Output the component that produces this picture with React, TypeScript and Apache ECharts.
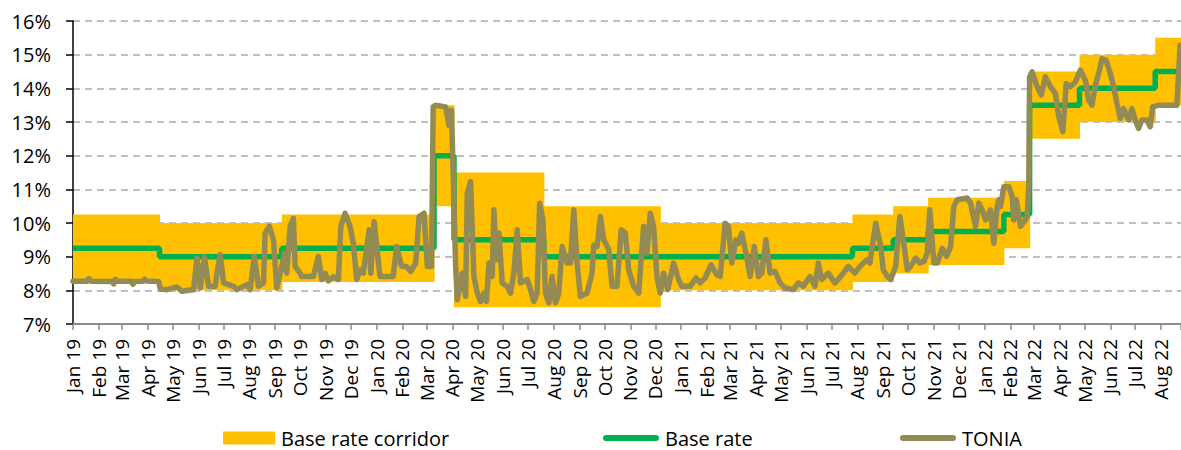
import React, { useEffect, useRef } from "react";
import * as echarts from "echarts";

const MONTHS = ["Jan", "Feb", "Mar", "Apr", "May", "Jun", "Jul", "Aug", "Sep", "Oct", "Nov", "Dec"];
const AXIS_START = "2019-01-01";
const AXIS_END = "2022-08-25";
const Y_MIN = 7;
const Y_MAX = 16;

// Policy periods (start dates), corridor bounds and base rate (%)
const PERIOD_START = [
  "2019-01-01", "2019-04-15", "2019-09-09", "2020-03-10", "2020-04-03", "2020-07-20", "2020-12-07",
  "2021-07-26", "2021-09-13", "2021-10-25", "2022-01-24", "2022-02-24", "2022-04-25", "2022-07-25",
];
const CORRIDOR_LOW = [8.25, 8.0, 8.25, 10.5, 7.5, 7.5, 8.0, 8.25, 8.5, 8.75, 9.25, 12.5, 13.0, 13.5];
const CORRIDOR_HIGH = [10.25, 10.0, 10.25, 13.5, 11.5, 10.5, 10.0, 10.25, 10.5, 10.75, 11.25, 14.5, 15.0, 15.5];
const BASE_RATE = [9.25, 9.0, 9.25, 12.0, 9.5, 9.0, 9.0, 9.25, 9.5, 9.75, 10.25, 13.5, 14.0, 14.5];

// TONIA: days since 2019-01-01 and value (%)
const TONIA_DAY = [
  0, 17, 19, 22, 47, 49, 51, 53, 70, 72, 74, 84, 86, 88, 103, 105, 113, 125, 131, 139, 145, 149, 153, 158, 163, 171, 173, 177, 181,
  193, 197, 209, 213, 218, 223, 229, 231, 236, 241, 245, 251, 254, 257, 261, 265, 267, 273, 275, 289, 295, 299,
  303, 307, 313, 319, 322, 327, 333, 337, 341, 345, 349, 356, 358, 362, 366, 369,
  385, 389, 395, 401, 406, 412, 416, 422, 426, 431, 433, 436, 448, 452, 455, 460, 462, 468, 472, 474, 478, 482,
  486, 490, 494, 497, 500, 504, 506, 509, 512, 516, 522, 526, 530, 534, 538, 546, 550, 554, 558, 561, 565, 568,
  572, 576, 580, 584, 588, 594, 598, 602, 606, 610, 618, 624, 626, 630, 634, 638, 644, 648, 654, 659, 664, 668,
  674, 680, 686, 690, 694, 698, 702, 706, 710, 715, 722, 728, 732, 742, 749, 754, 760, 767, 774, 778, 784, 788,
  792, 797, 800, 804, 809, 814, 819, 824, 828, 833, 838, 844, 850,
  856, 866, 872, 878, 886, 892, 896, 900, 908, 916, 926, 932, 940, 946, 950, 955, 958, 965, 971, 974, 979, 983,
  989, 994, 997, 1003, 1007, 1013, 1018, 1023, 1027, 1030, 1035, 1039, 1045, 1050, 1055, 1059, 1063, 1075, 1079,
  1085, 1089, 1093, 1097, 1103, 1107, 1111, 1113, 1115, 1119, 1125, 1129, 1131, 1134, 1139, 1145, 1147, 1149,
  1150, 1153, 1159, 1164, 1169, 1175, 1181, 1185, 1190, 1194, 1199, 1205, 1211, 1217, 1221, 1225, 1229, 1233,
  1237, 1242, 1247, 1251, 1255, 1259, 1263, 1269, 1273, 1277, 1281, 1285, 1291, 1295, 1298, 1305, 1327, 1331,
];
const TONIA_VAL = [
  8.27, 8.27, 8.35, 8.27, 8.26, 8.19, 8.33, 8.27, 8.27, 8.18, 8.26, 8.27, 8.33, 8.28, 8.26, 8.04, 8.02, 8.1, 7.97, 8.0, 8.02, 8.96, 8.07, 8.99, 8.12, 8.12, 8.51, 9.06, 8.22,
  8.12, 8.02, 8.17, 8.02, 9.01, 8.12, 8.22, 9.7, 9.9, 9.5, 8.07, 8.71, 9.1, 8.51, 9.9, 10.14, 8.71, 8.51, 8.41, 8.41, 9.01, 8.32,
  8.5, 8.28, 8.41, 8.32, 9.9, 10.29, 9.9, 9.4, 8.32, 8.61, 8.51, 9.8, 8.51, 10.04, 9.1, 8.41,
  8.41, 9.3, 8.71, 8.71, 8.56, 8.81, 10.19, 10.29, 8.71, 8.71, 13.45, 13.5, 13.45, 12.9, 13.35, 8.71, 7.72, 8.51, 7.82, 10.88, 11.23, 8.41,
  7.92, 7.67, 7.92, 7.67, 8.81, 8.41, 10.39, 8.91, 9.7, 8.22, 8.12, 7.92, 8.51, 9.8, 8.22, 8.32, 8.02, 7.67, 7.92, 10.59, 10.09, 7.92,
  7.63, 8.41, 7.63, 7.92, 9.3, 8.81, 8.81, 10.39, 8.81, 7.82, 7.92, 8.51, 9.35, 9.3, 10.19, 9.5, 9.21, 8.12, 8.12, 9.8, 9.7, 8.61,
  8.12, 7.92, 9.9, 9.11, 10.29, 9.9, 8.41, 7.92, 8.51, 8.02, 8.81, 8.32, 8.12, 8.12, 8.37, 8.22, 8.37, 8.76, 8.46, 8.41, 9.99, 9.9,
  8.81, 9.5, 9.4, 9.7, 9.11, 8.41, 9.3, 8.41, 8.51, 9.5, 8.51, 8.56, 8.22,
  8.07, 8.02, 8.22, 8.12, 8.41, 8.12, 8.81, 8.32, 8.51, 8.22, 8.51, 8.71, 8.51, 8.71, 8.81, 8.91, 8.81, 9.99, 9.3, 8.61, 8.41, 8.32,
  8.71, 10.19, 9.7, 8.61, 8.71, 8.96, 8.81, 8.86, 9.11, 10.39, 8.81, 8.81, 9.25, 9.01, 9.3, 10.49, 10.69, 10.74, 10.59,
  9.9, 10.59, 10.39, 10.09, 10.39, 9.4, 10.49, 10.69, 10.49, 11.08, 11.08, 10.79, 10.09, 10.69, 9.9, 10.09, 10.2, 11.08,
  14.34, 14.49, 14.05, 13.8, 14.34, 14.05, 13.85, 13.16, 12.71, 14.14, 14.05, 14.19, 14.54, 14.24, 13.65, 13.5, 14.09, 14.44,
  14.88, 14.83, 14.44, 14.05, 13.55, 13.11, 13.4, 13.06, 13.4, 13.06, 12.81, 13.06, 13.06, 12.86, 13.45, 13.5, 13.5, 15.28,
];

const ORANGE = "#FFC000";
const GREEN = "#00B050";
const OLIVE = "#948A54";
const FONT = "Open Sans";
const LINE_ICON = "path://M3,0 L53,0 A3,3 0 0 1 53,6 L3,6 A3,3 0 0 1 3,0 Z";

function parseLocal(s: string): number {
  const [y, m, d] = s.split("-").map(Number);
  return new Date(y, m - 1, d).getTime();
}

export default function App() {
  const ref = useRef<HTMLDivElement>(null);

  useEffect(() => {
    document.body.style.margin = "0";
    if (!ref.current) return;
    const chart = echarts.init(ref.current, undefined, { renderer: "svg" });

    const startMs = parseLocal(AXIS_START);
    const endMs = parseLocal(AXIS_END);
    const periodMs = PERIOD_START.map(parseLocal);

    const corridorData = periodMs.map((s, i) => [
      s,
      i + 1 < periodMs.length ? periodMs[i + 1] : endMs,
      CORRIDOR_LOW[i],
      CORRIDOR_HIGH[i],
    ]);
    const baseData: [number, number][] = periodMs.map((s, i) => [s, BASE_RATE[i]]);
    baseData.push([endMs, BASE_RATE[BASE_RATE.length - 1]]);

    const toniaData = TONIA_DAY.map((d, i) => [new Date(2019, 0, 1 + d).getTime(), TONIA_VAL[i]]);

    const DAY = 86400000;
    const legendCommon = {
      orient: "horizontal",
      selectedMode: false,
      itemGap: 0,
      padding: 0,
      top: 428,
      textStyle: { fontFamily: FONT, fontSize: 20, lineHeight: 16, color: "#000", padding: [0, 0, 0, 1] },
    };

    chart.setOption({
      animation: false,
      backgroundColor: "#fff",
      grid: { left: 73, right: 0, top: 21, bottom: 126, containLabel: false, outerBoundsMode: "none" },
      xAxis: {
        type: "time",
        min: startMs,
        max: endMs,
        splitNumber: 44,
        minInterval: 27 * DAY,
        maxInterval: 32 * DAY,
        axisLine: { show: true, lineStyle: { color: "#8C8C8C", width: 2 } },
        axisTick: { show: true, length: 6, lineStyle: { color: "#8C8C8C", width: 1.5 } },
        splitLine: { show: false },
        axisLabel: {
          rotate: 90,
          margin: 15,
          fontFamily: FONT,
          fontSize: 19,
          color: "#000",
          hideOverlap: false,
          showMaxLabel: true,
          formatter: (v: number) => {
            const d = new Date(v);
            if (d.getDate() !== 1) return "";
            return MONTHS[d.getMonth()] + " " + String(d.getFullYear()).slice(2);
          },
        },
      },
      yAxis: {
        type: "value",
        min: Y_MIN,
        max: Y_MAX,
        interval: 1,
        axisLine: { show: true, lineStyle: { color: "#000", width: 1.5 } },
        axisTick: { show: true, length: 7, lineStyle: { color: "#000", width: 1.5 } },
        axisLabel: {
          formatter: "{value}%",
          margin: 22,
          fontFamily: FONT,
          fontSize: 20,
          color: "#000",
        },
        splitLine: { show: true, lineStyle: { color: "#BFBFBF", width: 2, type: [7, 5] } },
      },
      legend: [
        {
          ...legendCommon,
          left: 223,
          itemWidth: 52,
          itemHeight: 13,
          data: [{ name: "Base rate corridor", icon: "rect", itemStyle: { borderWidth: 0 } }],
        },
        {
          ...legendCommon,
          left: 603,
          itemWidth: 56,
          itemHeight: 6,
          data: [{ name: "Base rate", icon: LINE_ICON, itemStyle: { color: GREEN, borderWidth: 0 } }],
        },
        {
          ...legendCommon,
          left: 900,
          itemWidth: 56,
          itemHeight: 6,
          data: [{ name: "TONIA", icon: LINE_ICON, itemStyle: { color: OLIVE, borderWidth: 0 } }],
        },
      ],
      series: [
        {
          name: "Base rate corridor",
          type: "custom",
          itemStyle: { color: ORANGE },
          encode: { x: [0, 1], y: [2, 3] },
          data: corridorData,
          renderItem: (params: any, api: any) => {
            const p1 = api.coord([api.value(0), api.value(3)]);
            const p2 = api.coord([api.value(1), api.value(2)]);
            return {
              type: "rect",
              shape: { x: p1[0], y: p1[1], width: p2[0] - p1[0] + 0.6, height: p2[1] - p1[1] },
              style: { fill: ORANGE },
            };
          },
          z: 1,
        },
        {
          name: "Base rate",
          type: "line",
          step: "end",
          symbol: "none",
          data: baseData,
          itemStyle: { color: GREEN },
          lineStyle: { color: GREEN, width: 5.5 },
          z: 2,
        },
        {
          name: "TONIA",
          type: "line",
          symbol: "none",
          data: toniaData,
          itemStyle: { color: OLIVE },
          lineStyle: { color: OLIVE, width: 5.5, cap: "round", join: "round" },
          z: 3,
        },
      ],
    });

    return () => chart.dispose();
  }, []);

  return <div ref={ref} style={{ width: 1181, height: 450 }} />;
}
